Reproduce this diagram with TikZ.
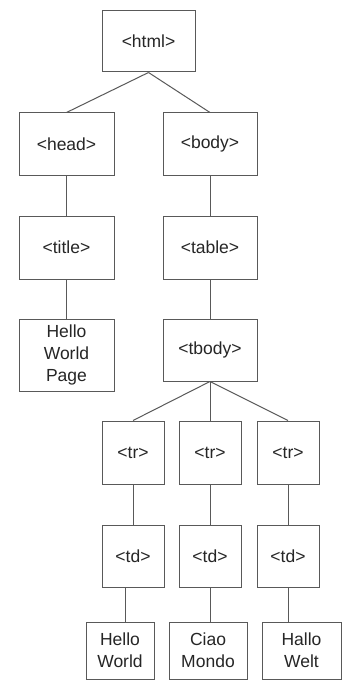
\documentclass[tikz,border=0pt]{standalone}
\usepackage{fontspec}
\setmainfont{Liberation Sans}
\begin{document}
\begin{tikzpicture}[x=1pt,y=1pt,
  box/.style={draw=black!65, line width=1pt, inner sep=0pt, align=center,
    font=\fontsize{17.5}{21.7}\selectfont, text=black!85},
  link/.style={draw=black!65, line width=1pt}]
\useasboundingbox[fill=white] (0,0) rectangle (344,-687);
\newcommand{\bx}[6]{\node[box, minimum width={#4-#2}, minimum height={#5-#3}] (#1) at ({(#2+#4)/2},{-(#3+#5)/2}) {#6};}
\bx{html}{102}{11}{195}{72}{<html>}
\bx{head}{19}{113}{114}{175}{<head>}
\bx{body}{163}{113}{257}{175}{<body>}
\bx{title}{19}{216}{114}{279}{<title>}
\bx{table}{163}{216}{257}{279}{<table>}
\bx{hwp}{19}{319}{114}{391}{Hello\\World\\Page}
\bx{tbody}{163}{319}{257}{381}{<tbody>}
\bx{tra}{102}{421}{164}{484}{<tr>}
\bx{trb}{179}{421}{241}{484}{<tr>}
\bx{trc}{257}{421}{319}{484}{<tr>}
\bx{tda}{102}{525}{164}{587}{<td>}
\bx{tdb}{179}{525}{241}{587}{<td>}
\bx{tdc}{257}{525}{319}{587}{<td>}
\bx{lfa}{86}{622}{154}{679}{Hello\\World}
\bx{lfb}{169}{622}{247}{679}{Ciao\\Mondo}
\bx{lfc}{262}{622}{341}{679}{Hallo\\Welt}
\draw[link] (html.south) -- (head.north);
\draw[link] (html.south) -- (body.north);
\draw[link] (head) -- (title);
\draw[link] (title) -- (hwp);
\draw[link] (body) -- (table);
\draw[link] (table) -- (tbody);
\draw[link] (tbody.south) -- (tra.north);
\draw[link] (tbody.south) -- (trb.north);
\draw[link] (tbody.south) -- (trc.north);
\draw[link] (tra) -- (tda);
\draw[link] (trb) -- (tdb);
\draw[link] (trc) -- (tdc);
\draw[link] ([xshift=-8pt]tda.south) -- ([xshift=-8pt]tda.south |- lfa.north);
\draw[link] (tdb.south) -- (tdb.south |- lfb.north);
\draw[link] (tdc.south) -- (tdc.south |- lfc.north);
\end{tikzpicture}
\end{document}
